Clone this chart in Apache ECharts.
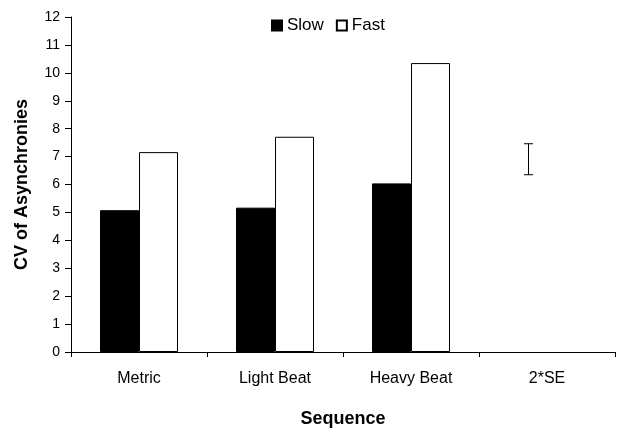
<!DOCTYPE html>
<html>
<head>
<meta charset="utf-8">
<script src="https://cdn.jsdelivr.net/npm/echarts@6/dist/echarts.min.js"></script>
<style>html,body{margin:0;padding:0;background:#fff;}#c{width:618px;height:429px;}</style>
</head>
<body>
<div id="c"></div>
<script>
var categories = ['Metric', 'Light Beat', 'Heavy Beat', '2*SE'];
var slowValues = [5.08, 5.17, 6.04, null];
var fastValues = [7.16, 7.71, 10.35, null];
var errorBar = [[3, 6.35, 7.46]];
var yTicks = {min: 0, max: 12, interval: 1};

var BAR_W = 39;
var chart = echarts.init(document.getElementById('c'), null, {renderer: 'canvas'});
var font = 'Liberation Sans, Arial, sans-serif';
chart.setOption({
  animation: false,
  backgroundColor: '#fff',
  textStyle: {fontFamily: font},
  grid: {left: 71, right: 3, top: 17, bottom: 77, containLabel: false, outerBoundsMode: 'none'},
  legend: {
    left: 266, top: 12,
    itemWidth: 10, itemHeight: 10, itemGap: 12, itemTextGap: 5,
    icon: 'rect',
    textStyle: {fontSize: 17, color: '#000', fontFamily: font},
    data: ['Slow', 'Fast']
  },
  xAxis: {
    type: 'category',
    data: categories,
    name: 'Sequence',
    nameLocation: 'middle',
    nameGap: 58,
    nameTextStyle: {fontSize: 18, fontWeight: 'bold', color: '#000', fontFamily: font},
    axisLine: {lineStyle: {color: '#000', width: 1}},
    axisTick: {show: true, alignWithLabel: false, length: 5, lineStyle: {color: '#000'}},
    axisLabel: {fontSize: 16, color: '#000', margin: 19, fontFamily: font},
    splitLine: {show: false}
  },
  yAxis: {
    type: 'value',
    min: yTicks.min, max: yTicks.max, interval: yTicks.interval,
    name: 'CV of Asynchronies',
    nameLocation: 'middle',
    nameGap: 40,
    nameTextStyle: {fontSize: 18, fontWeight: 'bold', color: '#000', fontFamily: font},
    axisLine: {show: true, lineStyle: {color: '#000', width: 1}},
    axisTick: {show: true, length: 6, lineStyle: {color: '#000'}},
    axisLabel: {fontSize: 14, color: '#000', margin: 11, fontFamily: font},
    splitLine: {show: false}
  },
  series: [
    {
      name: 'Slow', type: 'bar', data: slowValues,
      barWidth: BAR_W, barGap: '0%',
      itemStyle: {color: '#000', borderColor: '#000', borderWidth: 1}
    },
    {
      name: 'Fast', type: 'bar', data: fastValues,
      barWidth: BAR_W, barGap: '0%',
      itemStyle: {color: '#fff', borderColor: '#000', borderWidth: 1}
    },
    {
      name: '2*SE', type: 'custom', data: errorBar,
      encode: {x: 0, y: [1, 2]},
      renderItem: function (params, api) {
        var lo = api.coord([api.value(0), api.value(1)]);
        var hi = api.coord([api.value(0), api.value(2)]);
        var x = Math.round(lo[0] - BAR_W / 2) + 0.5;
        var cap = 4.5;
        var st = {stroke: '#000', lineWidth: 1};
        return {
          type: 'group',
          children: [
            {type: 'line', shape: {x1: x, y1: lo[1], x2: x, y2: hi[1]}, style: st},
            {type: 'line', shape: {x1: x - cap, y1: lo[1], x2: x + cap, y2: lo[1]}, style: st},
            {type: 'line', shape: {x1: x - cap, y1: hi[1], x2: x + cap, y2: hi[1]}, style: st}
          ]
        };
      }
    }
  ]
});
</script>
</body>
</html>
